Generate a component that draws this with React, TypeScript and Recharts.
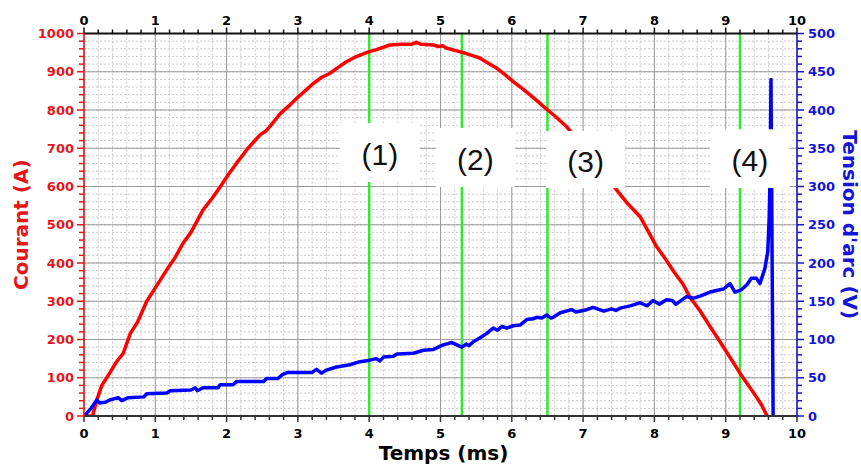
import React from 'react';
import {
  LineChart,
  Line,
  XAxis,
  YAxis,
  CartesianGrid,
  ReferenceLine,
  ReferenceArea,
} from 'recharts';

// ---------- data ----------
const currentTime = [
  0, 0.12, 0.18, 0.25, 0.36, 0.45, 0.55, 0.65, 0.75, 0.88, 1.0, 1.16, 1.28, 1.39, 1.5, 1.67, 1.8, 1.91,
  2.02, 2.14, 2.3, 2.47, 2.55, 2.62, 2.75, 2.87, 2.98, 3.1, 3.22, 3.33, 3.45, 3.57, 3.68, 3.8, 3.99, 4.1,
  4.29, 4.45, 4.6, 4.66, 4.72, 4.9, 4.97, 5.03, 5.08, 5.2, 5.3, 5.42, 5.55, 5.67, 5.79, 5.9, 6.02, 6.14,
  6.26, 6.38, 6.49, 6.6, 6.77, 6.85, 7.0, 7.2, 7.35, 7.47, 7.62, 7.8, 8.03, 8.15, 8.27, 8.4, 8.5, 8.64,
  8.78, 8.9, 9.01, 9.1, 9.2, 9.3, 9.43, 9.5, 9.58,
];
const currentValues = [
  0, 0, 42, 80, 112, 140, 164, 216, 245, 300, 335, 382, 415, 452, 480, 539, 570, 599,
  630, 661, 700, 735, 745, 760, 790, 810, 830, 850, 870, 885, 896, 912, 926, 938, 952, 958,
  970, 972, 972, 977, 972, 970, 966, 968, 962, 956, 951, 944, 936, 922, 909, 893, 874, 857,
  839, 820, 802, 785, 756, 738, 705, 655, 620, 591, 556, 521, 443, 412, 378, 345, 310, 275,
  234, 200, 168, 142, 112, 85, 50, 30, 0,
];

const voltageTime = [
  0, 0.1, 0.18, 0.22, 0.3, 0.36, 0.48, 0.53, 0.62, 0.84, 0.88, 1.16, 1.21, 1.5, 1.56, 1.59, 1.67, 1.88,
  1.91, 2.09, 2.14, 2.52, 2.56, 2.72, 2.78, 2.86, 3.2, 3.26, 3.33, 3.4, 3.54, 3.73, 3.87, 4.01, 4.1, 4.15,
  4.2, 4.34, 4.39, 4.62, 4.76, 4.9, 5.04, 5.16, 5.23, 5.3, 5.36, 5.4, 5.46, 5.55, 5.65, 5.74, 5.8, 5.86,
  5.93, 6.02, 6.12, 6.21, 6.3, 6.35, 6.42, 6.49, 6.55, 6.58, 6.68, 6.84, 6.9, 7.05, 7.14, 7.29, 7.4, 7.46,
  7.52, 7.66, 7.8, 7.9, 7.98, 8.07, 8.17, 8.25, 8.3, 8.45, 8.55, 8.65, 8.78, 8.92, 8.97, 9.06, 9.13, 9.22,
  9.3, 9.36, 9.43, 9.48, 9.55, 9.59, 9.61, 9.625, 9.635, 9.665,
];
const voltageValues = [
  0, 10, 21, 17, 18, 21, 24, 20, 24, 25, 29, 30, 33, 34, 37, 33, 37, 37,
  41, 41, 45, 45, 49, 49, 54, 57, 57, 61, 56, 60, 64, 67, 71, 73, 75, 72,
  77, 78, 81, 82, 86, 87, 93, 96, 93, 90, 94, 92, 97, 102, 108, 115, 112, 117,
  115, 118, 119, 126, 127, 129, 128, 132, 128, 129, 135, 139, 136, 139, 142, 137, 140, 138,
  141, 144, 148, 144, 151, 146, 152, 151, 146, 156, 154, 157, 162, 165, 166, 173, 162, 165,
  172, 180, 180, 173, 193, 215, 260, 330, 440, 0,
];

// phase markers (ms) and their annotation boxes
const phaseMarkers = [4.0, 5.3, 6.5, 9.2];
const phaseLabels = ['(1)', '(2)', '(3)', '(4)'];
const boxTimeStart = [3.59, 4.94, 6.48, 8.78];
const boxTimeEnd = [4.71, 6.04, 7.59, 9.9];
const boxCurrentLow = [612, 599, 596, 596];
const boxCurrentHigh = [766, 753, 745, 750];

// ticks
const timeTicks = [0, 1, 2, 3, 4, 5, 6, 7, 8, 9, 10];
const currentTicks = [0, 100, 200, 300, 400, 500, 600, 700, 800, 900, 1000];
const voltageTicks = [0, 50, 100, 150, 200, 250, 300, 350, 400, 450, 500];
const MINOR_DIV = 5;

function subdivide(major: number[], n: number): number[] {
  const out: number[] = [];
  for (let i = 0; i < major.length - 1; i++) {
    const a = major[i];
    const b = major[i + 1];
    for (let k = 0; k < n; k++) out.push(a + ((b - a) * k) / n);
  }
  out.push(major[major.length - 1]);
  return out;
}

const timeMinor = subdivide(timeTicks, MINOR_DIV);
const currentMinor = subdivide(currentTicks, MINOR_DIV);
const voltageMinor = subdivide(voltageTicks, MINOR_DIV);

const currentData = currentTime.map((t, i) => ({ t, v: currentValues[i] }));
const voltageData = voltageTime.map((t, i) => ({ t, v: voltageValues[i] }));

// ---------- styles ----------
const RED = '#ff0000';
const RED_TEXT = '#e8141a';
const BLUE = '#0000ff';
const BLUE_TEXT = '#1414d8';
const GREEN = '#33e833';
const AXIS_FONT = 'DejaVu Sans, Verdana, sans-serif';

type Side = 'bottom' | 'top' | 'left' | 'right';

const makeTick =
  (side: Side, majors: number[], color: string, textColor: string) =>
  (props: any) => {
    const { x, y, payload } = props;
    const v = payload.value as number;
    const isMajor = majors.some((m) => Math.abs(m - v) < 1e-9);
    const len = isMajor ? 6 : 4;
    const textProps = {
      fontFamily: AXIS_FONT,
      fontWeight: 700,
      fontSize: 13,
      fill: textColor,
    };
    if (side === 'bottom') {
      return (
        <g>
          <line x1={x} x2={x} y1={y} y2={y + len} stroke={color} strokeWidth={1.5} />
          {isMajor && (
            <text x={x} y={y + 22} textAnchor="middle" {...textProps}>
              {v}
            </text>
          )}
        </g>
      );
    }
    if (side === 'top') {
      return (
        <g>
          <line x1={x} x2={x} y1={y} y2={y - len} stroke={color} strokeWidth={1.5} />
          {isMajor && (
            <text x={x} y={y - 8.5} textAnchor="middle" {...textProps}>
              {v}
            </text>
          )}
        </g>
      );
    }
    if (side === 'left') {
      return (
        <g>
          <line x1={x - len - 1} x2={x} y1={y} y2={y} stroke={color} strokeWidth={1.5} />
          {isMajor && (
            <text x={x - 10} y={y + 4.7} textAnchor="end" {...textProps}>
              {v}
            </text>
          )}
        </g>
      );
    }
    return (
      <g>
        <line x1={x} x2={x + len + 1} y1={y} y2={y} stroke={color} strokeWidth={1.5} />
        {isMajor && (
          <text x={x + 11} y={y + 4.7} textAnchor="start" {...textProps}>
            {v}
          </text>
        )}
      </g>
    );
  };

const titleStyle = {
  fontFamily: AXIS_FONT,
  fontWeight: 700,
  fontSize: 20,
};

export default function App() {
  return (
    <div style={{ width: 861, height: 468, background: '#fff', overflow: 'hidden' }}>
      <style>{`body{margin:0;overflow:hidden;background:#fff}`}</style>
      <LineChart width={861} height={468} margin={{ top: 8, right: 0, bottom: 0, left: 4 }}>
        <CartesianGrid
          xAxisId="bottom"
          yAxisId="left"
          stroke="#c8c8c8"
          strokeDasharray="2 2"
          strokeWidth={1}
        />
        <CartesianGrid xAxisId="gmaj" yAxisId="gmaj" stroke="#9a9a9a" strokeWidth={1} />

        <XAxis
          xAxisId="bottom"
          orientation="bottom"
          type="number"
          dataKey="t"
          domain={[0, 10]}
          allowDataOverflow
          ticks={timeMinor}
          interval={0}
          height={52}
          tickSize={0}
          tickMargin={0}
          tickLine={false}
          axisLine={{ stroke: '#333', strokeWidth: 2 }}
          tick={makeTick('bottom', timeTicks, '#333', '#000')}
          label={{
            content: (p: any) => {
              const vb = p.viewBox;
              return (
                <text
                  x={vb.x + vb.width / 2 + 3}
                  y={vb.y + 44}
                  textAnchor="middle"
                  fill="#000"
                  {...titleStyle}
                >
                  Temps (ms)
                </text>
              );
            },
          }}
        />
        <XAxis
          xAxisId="top"
          orientation="top"
          type="number"
          dataKey="t"
          domain={[0, 10]}
          allowDataOverflow
          ticks={timeMinor}
          interval={0}
          height={25.5}
          tickSize={0}
          tickMargin={0}
          tickLine={false}
          axisLine={{ stroke: '#111', strokeWidth: 2 }}
          tick={makeTick('top', timeTicks, '#111', '#000')}
        />
        <XAxis
          xAxisId="gmaj"
          hide
          height={0}
          orientation="top"
          type="number"
          dataKey="t"
          domain={[0, 10]}
          allowDataOverflow
          ticks={timeTicks}
          interval={0}
        />

        <YAxis
          yAxisId="left"
          orientation="left"
          type="number"
          domain={[0, 1000]}
          allowDataOverflow
          ticks={currentMinor}
          interval={0}
          width={80}
          tickSize={0}
          tickMargin={0}
          tickLine={false}
          axisLine={{ stroke: RED_TEXT, strokeWidth: 1.5 }}
          tick={makeTick('left', currentTicks, RED_TEXT, RED_TEXT)}
          label={{
            content: (p: any) => {
              const vb = p.viewBox;
              const cx = vb.x + 24;
              const cy = vb.y + vb.height / 2;
              return (
                <text
                  x={cx}
                  y={cy}
                  textAnchor="middle"
                  fill={RED_TEXT}
                  transform={`rotate(-90 ${cx} ${cy})`}
                  {...titleStyle}
                >
                  Courant (A)
                </text>
              );
            },
          }}
        />
        <YAxis
          yAxisId="right"
          orientation="right"
          type="number"
          domain={[0, 500]}
          allowDataOverflow
          ticks={voltageMinor}
          interval={0}
          width={64}
          tickSize={0}
          tickMargin={0}
          tickLine={false}
          axisLine={{ stroke: BLUE_TEXT, strokeWidth: 1.5 }}
          tick={makeTick('right', voltageTicks, BLUE_TEXT, BLUE_TEXT)}
          label={{
            content: (p: any) => {
              const vb = p.viewBox;
              const cx = vb.x + 46;
              const cy = vb.y + vb.height / 2;
              return (
                <text
                  x={cx}
                  y={cy}
                  textAnchor="middle"
                  fill={BLUE_TEXT}
                  transform={`rotate(90 ${cx} ${cy})`}
                  {...titleStyle}
                >
                  Tension d'arc (V)
                </text>
              );
            },
          }}
        />
        <YAxis
          yAxisId="gmaj"
          hide
          width={0}
          orientation="right"
          type="number"
          domain={[0, 1000]}
          allowDataOverflow
          ticks={currentTicks}
          interval={0}
        />

        {phaseMarkers.map((t) => (
          <ReferenceLine
            key={`m${t}`}
            x={t}
            xAxisId="bottom"
            yAxisId="left"
            stroke={GREEN}
            strokeWidth={2.5}
          />
        ))}

        <Line
          data={currentData}
          dataKey="v"
          xAxisId="bottom"
          yAxisId="left"
          type="linear"
          stroke={RED}
          strokeWidth={3.5}
          strokeLinejoin="round"
          dot={false}
          activeDot={false}
          isAnimationActive={false}
        />
        <Line
          data={voltageData}
          dataKey="v"
          xAxisId="bottom"
          yAxisId="right"
          type="linear"
          stroke={BLUE}
          strokeWidth={3.5}
          strokeLinejoin="round"
          dot={false}
          activeDot={false}
          isAnimationActive={false}
        />

        {phaseLabels.map((lab, i) => (
          <ReferenceArea
            key={`b${i}`}
            xAxisId="bottom"
            yAxisId="left"
            x1={boxTimeStart[i]}
            x2={boxTimeEnd[i]}
            y1={boxCurrentLow[i]}
            y2={boxCurrentHigh[i]}
            fill="#ffffff"
            fillOpacity={1}
            stroke="none"
            // @ts-ignore
            zIndex={1500}
            label={{
              content: (p: any) => {
                const vb = p.viewBox;
                return (
                  <text
                    x={vb.x + vb.width / 2}
                    y={vb.y + vb.height / 2 + 12.5}
                    textAnchor="middle"
                    fill="#111"
                    fontFamily="Liberation Sans, Arial, sans-serif"
                    fontSize={30}
                  >
                    {lab}
                  </text>
                );
              },
            }}
          />
        ))}
      </LineChart>
    </div>
  );
}
